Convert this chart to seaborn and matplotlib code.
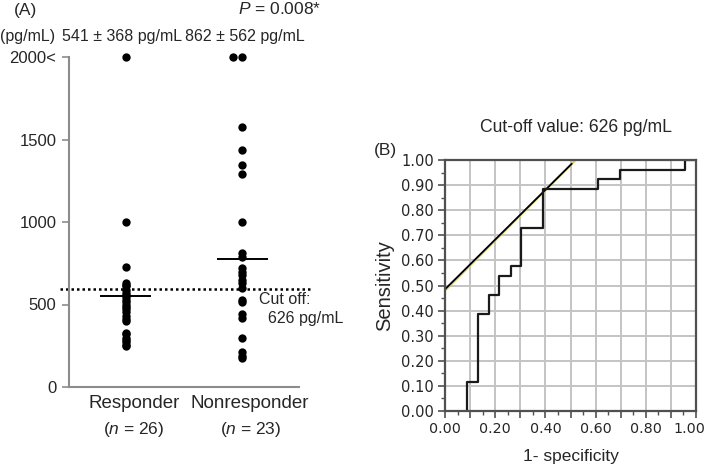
"""Serum level scatter by response group (A) and ROC curve (B)."""

import matplotlib

matplotlib.use("Agg")
import matplotlib.pyplot as plt
import matplotlib.transforms as mtransforms
import numpy as np
import pandas as pd
import seaborn as sns
from matplotlib.ticker import MultipleLocator

# ---- data: panel A ----
groups = ["Responder", "Nonresponder"]
group_n = [26, 23]
responder_vals = [2000, 1000, 725, 630, 620, 610, 590, 570, 555, 545, 530, 515, 500,
                  485, 470, 455, 430, 415, 400, 330, 320, 300, 285, 270, 255, 250]
nonresponder_vals = [2000, 2000, 1575, 1435, 1345, 1290, 1000, 810, 790, 720, 700, 680,
                     650, 630, 600, 530, 515, 445, 420, 300, 215, 190, 175]
center_lines = [550, 778]
cutoff_drawn = 595
cap_value = 2000
mean_sd_labels = ["541 ± 368 pg/mL", "862 ± 562 pg/mL"]
y_ticks_a = [0, 500, 1000, 1500, 2000]
y_ticklabels_a = ["0", "500", "1000", "1500", "2000<"]

# ---- data: panel B ----
roc_fpr = [0.087, 0.13, 0.174, 0.217, 0.261, 0.304, 0.391, 0.609, 0.696, 0.957, 1.0]
roc_tpr = [0.0, 0.115, 0.385, 0.462, 0.538, 0.577, 0.731, 0.885, 0.923, 0.962, 1.0]
tangent_x = [0.0, 0.505]
tangent_y = [0.485, 0.985]
tangent_hi_x = [0.0, 0.52]
tangent_hi_y = [0.48, 1.0]

sns.set_theme(style="white")
plt.rcParams["font.family"] = ["Liberation Sans", "DejaVu Sans"]
plt.rcParams["mathtext.fontset"] = "custom"
plt.rcParams["mathtext.it"] = "Liberation Sans:italic"
plt.rcParams["mathtext.rm"] = "Liberation Sans"

W, H = 709, 467
fig = plt.figure(figsize=(W / 100, H / 100), dpi=100)


def fx(px):
    return px / W


def fy(py):
    return 1 - py / H


# ================= panel A =================
ax = fig.add_axes([fx(69), fy(387), fx(299) - fx(69), fy(57) - fy(387)])

df = pd.DataFrame({
    "group": [groups[0]] * len(responder_vals) + [groups[1]] * len(nonresponder_vals),
    "value": responder_vals + nonresponder_vals,
})
low = df[df["value"] < cap_value]
high = df[df["value"] >= cap_value]

sns.stripplot(data=low, x="group", y="value", order=groups, jitter=False,
              color="black", size=6, linewidth=0, ax=ax, clip_on=False)
sns.swarmplot(data=high, x="group", y="value", order=groups,
              color="black", size=6, linewidth=0, ax=ax, clip_on=False)

for i, v in enumerate(center_lines):
    ax.hlines(v, i - 0.22, i + 0.22, color="black", lw=1.4)

ax.plot([-0.57, 1.59], [cutoff_drawn, cutoff_drawn], ls=(0, (1, 1.2)),
        color="black", lw=1.8, clip_on=False)

ax.set_xlim(-0.49, 1.49)
ax.set_ylim(0, cap_value)
ax.set_yticks(y_ticks_a)
ax.set_yticklabels(y_ticklabels_a, fontsize=12)
ax.set_xticks([0, 1])
ax.set_xticklabels([])
ax.set_xlabel("")
ax.set_ylabel("")
for s in ["top", "right"]:
    ax.spines[s].set_visible(False)
for s in ["left", "bottom"]:
    ax.spines[s].set_color("#8c8c8c")
    ax.spines[s].set_linewidth(1.5)
ax.tick_params(axis="y", length=5, width=1.2, color="#8c8c8c", pad=4, left=True)
ax.tick_params(axis="x", length=0)

for i, (g, n) in enumerate(zip(groups, group_n)):
    ax.text(i + 0.07, -0.024, g, transform=ax.get_xaxis_transform(),
            ha="center", va="top", fontsize=13.5)
    ax.text(i + 0.07, -0.1, f"($\\it{{n}}$ = {n})", transform=ax.get_xaxis_transform(),
            ha="center", va="top", fontsize=12.5)

fig.text(fx(14), fy(11), "(A)", fontsize=12.5, va="center")
fig.text(fx(238), fy(9), "$\\it{P}$ = 0.008*", fontsize=12.5, va="center")
fig.text(fx(0), fy(36), "(pg/mL)", fontsize=11.5, va="center")
fig.text(fx(62), fy(36), mean_sd_labels[0], fontsize=11.5, va="center")
fig.text(fx(185), fy(36), mean_sd_labels[1], fontsize=11.5, va="center")
fig.text(fx(259), fy(300), "Cut off:", fontsize=11.5, va="center")
fig.text(fx(268), fy(318), "626 pg/mL", fontsize=11.5, va="center")

# ================= panel B =================
bx = fig.add_axes([fx(445), fy(411), fx(696) - fx(445), fy(160) - fy(411)])

sns.lineplot(x=tangent_hi_x, y=tangent_hi_y, color="#d8cf5a", lw=1.6, ax=bx,
             sort=False, estimator=None)
sns.lineplot(x=tangent_x, y=tangent_y, color="black", lw=1.3, ax=bx,
             sort=False, estimator=None)
sns.lineplot(x=roc_fpr, y=roc_tpr, drawstyle="steps-pre", color="#1a1a1a", lw=1.6,
             ax=bx, sort=False, estimator=None)

bx.set_xlim(0, 1)
bx.set_ylim(0, 1)
bx.xaxis.set_minor_locator(MultipleLocator(0.05))
bx.yaxis.set_minor_locator(MultipleLocator(0.05))
xt = np.round(np.arange(0, 1.01, 0.1), 2)
bx.set_xticks(xt)
bx.set_xticklabels([f"{v:.2f}" if round(v * 10) % 2 == 0 else "" for v in xt],
                   family="DejaVu Sans", fontsize=10.3)
yt = np.round(np.arange(0, 1.01, 0.1), 2)
bx.set_yticks(yt)
bx.set_yticklabels([f"{v:.2f}" for v in yt], family="DejaVu Sans", fontsize=10.5)
bx.grid(True, which="major", color="#c4c4c4", lw=1.4)
bx.set_axisbelow(True)
for s in bx.spines.values():
    s.set_visible(True)
    s.set_color("#505050")
    s.set_linewidth(1.6)
bx.tick_params(which="major", length=5, width=1.2, color="#505050", pad=3,
               left=True, bottom=True)
bx.tick_params(which="minor", length=3, width=1.0, color="#505050",
               left=True, bottom=True)
bx.set_xlabel("1- specificity", fontsize=12.5, labelpad=9)
bx.set_ylabel("Sensitivity", fontsize=14.5, labelpad=5)

# nudge the last x label so it stays inside the figure
last = bx.get_xticklabels()[-1]
last.set_transform(last.get_transform()
                   + mtransforms.ScaledTranslation(-7 / 100, 0, fig.dpi_scale_trans))

fig.text(fx(576), fy(127), "Cut-off value: 626 pg/mL", fontsize=12.7, ha="center",
         va="center")
fig.text(fx(374), fy(150), "(B)", fontsize=12.5, va="center")

fig.savefig("out.png", dpi=100)
